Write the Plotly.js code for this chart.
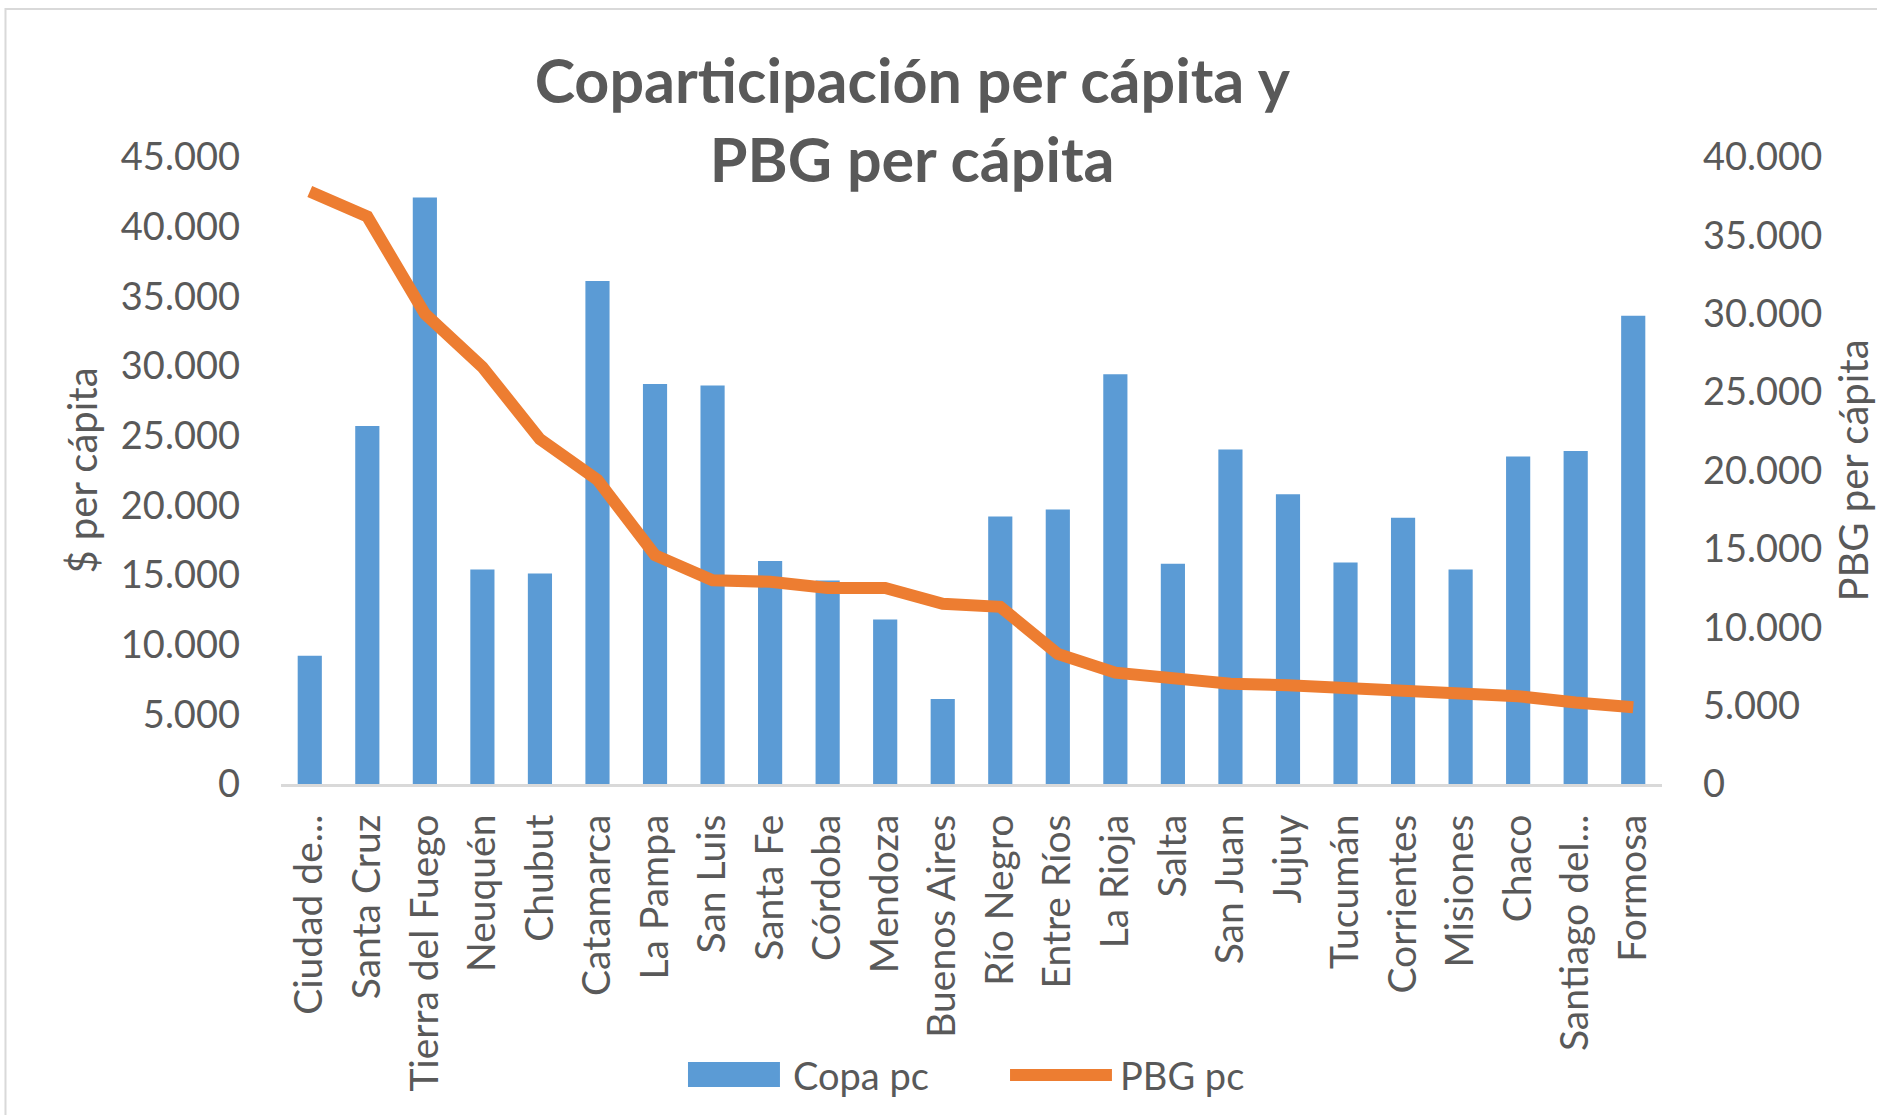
<!DOCTYPE html>
<html>
<head>
<meta charset="utf-8">
<script src="https://cdn.plot.ly/plotly-3.0.1.min.js"></script>
<style>
  html, body { margin: 0; padding: 0; background: #ffffff; }
  #chart { width: 1877px; height: 1115px; }
</style>
</head>
<body>
<div id="chart"></div>
<script>
// Provinces (as shown on the axis)
const categories = ["Ciudad de...", "Santa Cruz", "Tierra del Fuego", "Neuquén", "Chubut", "Catamarca",
  "La Pampa", "San Luis", "Santa Fe", "Córdoba", "Mendoza", "Buenos Aires", "Río Negro", "Entre Ríos",
  "La Rioja", "Salta", "San Juan", "Jujuy", "Tucumán", "Corrientes", "Misiones", "Chaco",
  "Santiago del...", "Formosa"];

// Coparticipación per cápita ($) - left axis
const copaPc = [9200, 25700, 42100, 15400, 15100, 36100, 28700, 28600, 16000, 14600, 11800, 6100,
  19200, 19700, 29400, 15800, 24000, 20800, 15900, 19100, 15400, 23500, 23900, 33600];

// PBG per cápita - right axis
const pbgPc = [37800, 36200, 30000, 26600, 22000, 19400, 14600, 13000, 12900, 12500, 12500, 11500,
  11300, 8300, 7100, 6700, 6400, 6300, 6100, 5900, 5800, 5600, 5200, 4900];

const seriesNames = ["Copa pc", "PBG pc"];
const titleText = "Coparticipación per cápita y<br>PBG per cápita";
const leftAxisTitle = "$ per cápita";
const rightAxisTitle = "PBG per cápita";

const FONT = "Lato, 'Open Sans', 'Liberation Sans', sans-serif";
const GREY = "#595959";
const BLUE = "#5b9bd5";
const ORANGE = "#ed7d31";

const traces = [
  {
    type: "bar",
    name: seriesNames[0],
    x: categories,
    y: copaPc,
    yaxis: "y",
    marker: { color: BLUE, line: { width: 0 } },
    showlegend: false,
    hoverinfo: "x+y"
  },
  {
    type: "scatter",
    mode: "lines",
    name: seriesNames[1],
    x: categories,
    y: pbgPc,
    yaxis: "y2",
    line: { color: ORANGE, width: 12 },
    showlegend: false,
    hoverinfo: "x+y"
  }
];

// legend drawn below the plot (paper coordinates)
const legY = -0.464;
const layout = {
  width: 1877,
  height: 1115,
  paper_bgcolor: "#ffffff",
  plot_bgcolor: "#ffffff",
  separators: ",.",
  font: { family: FONT, color: GREY, size: 38 },
  margin: { l: 281, r: 215, t: 157, b: 331, pad: 0 },
  bargap: 0.58,
  title: {
    text: titleText,
    font: { family: FONT, size: 61, color: GREY, weight: "bold" },
    xref: "container", x: 0.486, xanchor: "center",
    yref: "container", y: 0.908, yanchor: "top"
  },
  xaxis: {
    type: "category",
    tickangle: -90,
    tickfont: { family: FONT, size: 39, color: GREY },
    showline: true, linecolor: "#d9d9d9", linewidth: 3,
    showgrid: false, zeroline: false,
    ticks: "", ticklabelstandoff: 12,
    automargin: false
  },
  yaxis: {
    range: [0, 45000],
    dtick: 5000,
    tickformat: ",d",
    tickfont: { family: FONT, size: 38, color: GREY },
    showgrid: false, zeroline: false, showline: false,
    ticks: "", ticklabelstandoff: 40,
    automargin: false,
    title: { text: leftAxisTitle, font: { family: FONT, size: 40, color: GREY }, standoff: 10 }
  },
  yaxis2: {
    overlaying: "y",
    side: "right",
    range: [0, 40000],
    dtick: 5000,
    tickformat: ",d",
    tickfont: { family: FONT, size: 38, color: GREY },
    showgrid: false, zeroline: false, showline: false,
    ticks: "", ticklabelstandoff: 40,
    automargin: false,
    title: { text: rightAxisTitle, font: { family: FONT, size: 40, color: GREY }, standoff: 34 }
  },
  showlegend: false,
  annotations: [
    { text: seriesNames[0], xref: "paper", yref: "paper", x: 0.3693, y: legY,
      xanchor: "left", yanchor: "middle", showarrow: false,
      font: { family: FONT, size: 38, color: GREY } },
    { text: seriesNames[1], xref: "paper", yref: "paper", x: 0.6061, y: legY,
      xanchor: "left", yanchor: "middle", showarrow: false,
      font: { family: FONT, size: 38, color: GREY } }
  ],
  shapes: [
    {
      type: "rect", xref: "paper", yref: "paper",
      x0: -0.1995, x1: 1.3, y0: -0.7, y1: 1.236,
      line: { color: "#d9d9d9", width: 2 },
      fillcolor: "rgba(0,0,0,0)",
      layer: "below"
    },
    { // legend swatch: Copa pc
      type: "rect", xref: "paper", yref: "paper",
      x0: 0.2947, x1: 0.3613, y0: -0.4833, y1: -0.4434,
      line: { width: 0 }, fillcolor: BLUE
    },
    { // legend swatch: PBG pc
      type: "line", xref: "paper", yref: "paper",
      x0: 0.5279, x1: 0.6017, y0: legY, y1: legY,
      line: { color: ORANGE, width: 12 }
    }
  ]
};

Plotly.newPlot("chart", traces, layout, { displayModeBar: false, responsive: false });
</script>
</body>
</html>
